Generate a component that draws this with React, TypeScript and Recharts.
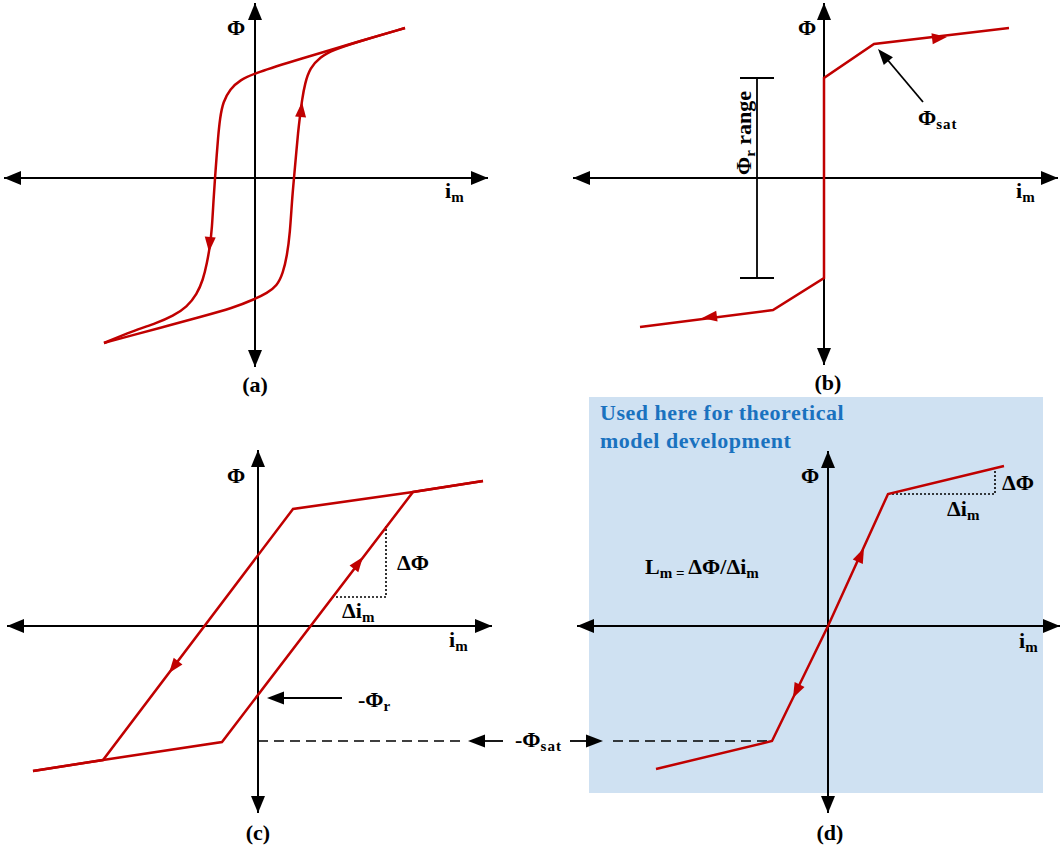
import React from "react";
import { ComposedChart, Line, Scatter, XAxis, YAxis, ReferenceArea } from "recharts";

const RED = "#c00000";
const BLUE_BG = "#cfe1f2";
const BLUE_TEXT = "#1a72bf";
const FONT = "'Liberation Serif', 'Times New Roman', serif";
const PX = 100; // pixels per unit of i_m / Φ

type Pt = { x: number; y: number };
type Arrow = { x: number; y: number; fx: number; fy: number };

// ---------- (a) real hysteresis loop ----------
const aDescending: Pt[] = [
  { x: -1.51, y: -1.65 }, { x: -1.22, y: -1.53 }, { x: -0.98, y: -1.45 }, { x: -0.82, y: -1.38 },
  { x: -0.68, y: -1.29 }, { x: -0.58, y: -1.16 }, { x: -0.52, y: -1.02 }, { x: -0.48, y: -0.85 },
  { x: -0.45, y: -0.68 }, { x: -0.43, y: -0.5 }, { x: -0.415, y: -0.22 }, { x: -0.4, y: 0 },
  { x: -0.385, y: 0.2 }, { x: -0.37, y: 0.4 }, { x: -0.35, y: 0.6 }, { x: -0.32, y: 0.76 },
  { x: -0.25, y: 0.89 }, { x: -0.15, y: 0.98 }, { x: 0, y: 1.05 }, { x: 0.45, y: 1.19 },
  { x: 1.02, y: 1.36 }, { x: 1.5, y: 1.5 },
];
const aAscending: Pt[] = [
  { x: -1.51, y: -1.65 }, { x: -1.22, y: -1.57 }, { x: -0.88, y: -1.48 }, { x: -0.55, y: -1.39 },
  { x: -0.22, y: -1.3 }, { x: 0, y: -1.21 }, { x: 0.12, y: -1.15 }, { x: 0.22, y: -1.08 },
  { x: 0.28, y: -0.95 }, { x: 0.32, y: -0.78 }, { x: 0.35, y: -0.55 }, { x: 0.37, y: -0.22 },
  { x: 0.39, y: 0 }, { x: 0.415, y: 0.28 }, { x: 0.43, y: 0.45 }, { x: 0.45, y: 0.62 },
  { x: 0.47, y: 0.78 }, { x: 0.5, y: 0.95 }, { x: 0.55, y: 1.1 }, { x: 0.65, y: 1.21 },
  { x: 0.78, y: 1.28 }, { x: 1.02, y: 1.36 }, { x: 1.5, y: 1.5 },
];
const aArrows: Arrow[] = [
  { x: -0.46, y: -0.74, fx: -0.44, fy: -0.5 },
  { x: 0.47, y: 0.76, fx: 0.45, fy: 0.55 },
];
const aAxisX = [-2.51, 2.33];
const aAxisY = [-1.89, 1.75];

// ---------- (b) ideal square loop ----------
const bCurve: Pt[] = [
  { x: -1.84, y: -1.49 }, { x: -0.51, y: -1.32 }, { x: 0, y: -1.0 },
  { x: 0, y: 1.0 }, { x: 0.5, y: 1.34 }, { x: 1.85, y: 1.5 },
];
const bArrows: Arrow[] = [
  { x: 1.23, y: 1.41, fx: 1.0, fy: 1.383 },
  { x: -1.22, y: -1.4, fx: -1.0, fy: -1.372 },
];
const bRangeBar: Pt[][] = [
  [{ x: -0.67, y: 1.0 }, { x: -0.67, y: -1.0 }],
  [{ x: -0.84, y: 1.0 }, { x: -0.5, y: 1.0 }],
  [{ x: -0.84, y: -1.0 }, { x: -0.5, y: -1.0 }],
];
const bSatPointer: Pt[] = [{ x: 0.99, y: 0.76 }, { x: 0.62, y: 1.2 }];
const bSatTip: Arrow[] = [{ x: 0.54, y: 1.29, fx: 0.99, fy: 0.76 }];
const bAxisX = [-2.51, 2.34];
const bAxisY = [-1.87, 1.75];

// ---------- (c) piecewise-linear loop ----------
const cDescending: Pt[] = [
  { x: -2.25, y: -1.45 }, { x: -1.55, y: -1.34 }, { x: 0.35, y: 1.17 }, { x: 1.55, y: 1.34 }, { x: 2.25, y: 1.45 },
];
const cAscending: Pt[] = [
  { x: -2.25, y: -1.45 }, { x: -1.55, y: -1.34 }, { x: -0.36, y: -1.16 }, { x: 1.55, y: 1.34 }, { x: 2.25, y: 1.45 },
];
const cArrows: Arrow[] = [
  { x: 1.05, y: 0.69, fx: 0.9, fy: 0.493 },
  { x: -0.89, y: -0.47, fx: -0.75, fy: -0.286 },
];
const cSlopeGuide: Pt[] = [{ x: 0.74, y: 0.29 }, { x: 1.28, y: 0.29 }, { x: 1.28, y: 1.0 }];
const cRemPointer: Pt[] = [{ x: 0.84, y: -0.72 }, { x: 0.2, y: -0.72 }];
const cRemTip: Arrow[] = [{ x: 0.09, y: -0.72, fx: 0.84, fy: -0.72 }];
const cSatDashed: Pt[] = [{ x: 0, y: -1.15 }, { x: 2.05, y: -1.15 }];
const cSatShafts: Pt[][] = [
  [{ x: 2.2, y: -1.15 }, { x: 2.45, y: -1.15 }],
  [{ x: 3.12, y: -1.15 }, { x: 3.35, y: -1.15 }],
];
const cSatTips: Arrow[] = [
  { x: 2.1, y: -1.15, fx: 2.45, fy: -1.15 },
  { x: 3.45, y: -1.15, fx: 3.12, fy: -1.15 },
];
const cAxisX = [-2.51, 2.34];
const cAxisY = [-1.87, 1.76];

// ---------- (d) model used here ----------
const dCurve: Pt[] = [
  { x: -1.72, y: -1.43 }, { x: -0.56, y: -1.15 }, { x: 0, y: 0 }, { x: 0.6, y: 1.32 }, { x: 1.76, y: 1.6 },
];
const dArrows: Arrow[] = [
  { x: 0.36, y: 0.78, fx: 0.26, fy: 0.56 },
  { x: -0.35, y: -0.72, fx: -0.25, fy: -0.515 },
];
const dSlopeGuide: Pt[] = [{ x: 0.6, y: 1.32 }, { x: 1.67, y: 1.32 }, { x: 1.67, y: 1.58 }];
const dSatDashed: Pt[] = [{ x: -2.15, y: -1.15 }, { x: -0.56, y: -1.15 }];
const dShadeX = [-2.39, 2.15];
const dShadeY = [-1.67, 2.29];
const dAxisX = [-2.51, 2.32];
const dAxisY = [-1.87, 1.75];

const arrowHead = (fill: string, len: number, half: number) => (props: any) => {
  const { cx, cy, payload } = props;
  let dx = payload.x - payload.fx;
  let dy = -(payload.y - payload.fy);
  const n = Math.hypot(dx, dy) || 1;
  dx /= n;
  dy /= n;
  const bx = cx - dx * len;
  const by = cy - dy * len;
  const pts = `${cx},${cy} ${bx - dy * half},${by + dx * half} ${bx + dy * half},${by - dx * half}`;
  return <polygon points={pts} fill={fill} />;
};

const path = (key: string, data: Pt[], stroke: string, width: number, extra: any = {}) => (
  <Line
    key={key}
    data={data}
    dataKey="y"
    type="linear"
    stroke={stroke}
    strokeWidth={width}
    dot={false}
    activeDot={false}
    isAnimationActive={false}
    {...extra}
  />
);

const heads = (key: string, data: Arrow[], fill: string, len: number, half: number) => (
  <Scatter key={key} data={data} shape={arrowHead(fill, len, half)} isAnimationActive={false} />
);

const axes = (key: string, xs: number[], ys: number[]) => [
  path(key + "-h", [{ x: xs[0], y: 0 }, { x: xs[1], y: 0 }], "#000", 2),
  path(key + "-v", [{ x: 0, y: ys[0] }, { x: 0, y: ys[1] }], "#000", 2),
  heads(
    key + "-t",
    [
      { x: xs[0], y: 0, fx: 0, fy: 0 },
      { x: xs[1], y: 0, fx: 0, fy: 0 },
      { x: 0, y: ys[0], fx: 0, fy: 0 },
      { x: 0, y: ys[1], fx: 0, fy: 0 },
    ],
    "#000",
    17,
    7
  ),
];

const Panel = ({ box, origin, children }: { box: number[]; origin: number[]; children: any }) => {
  const [left, top, w, h] = box;
  const [ox, oy] = origin;
  const xd = [(left - ox) / PX, (left + w - ox) / PX];
  const yd = [(oy - top - h) / PX, (oy - top) / PX];
  return (
    <div style={{ position: "absolute", left, top, width: w, height: h }}>
      <ComposedChart width={w} height={h} margin={{ top: 0, right: 0, bottom: 0, left: 0 }}>
        <XAxis type="number" dataKey="x" domain={xd} hide allowDataOverflow />
        <YAxis type="number" dataKey="y" domain={yd} hide allowDataOverflow />
        {children}
      </ComposedChart>
    </div>
  );
};

const SUB = 15;
const T = (p: any) => <text fontFamily={FONT} fontWeight="bold" fontSize={22} fill="#000" {...p} />;

const App = () => {
  return (
    <div style={{ position: "absolute", left: 0, top: 0, width: 1062, height: 846, background: "#fff", overflow: "hidden" }}>
      {/* (d) shaded background */}
      <Panel box={[560, 390, 502, 456]} origin={[828, 626]}>
        <ReferenceArea x1={dShadeX[0]} x2={dShadeX[1]} y1={dShadeY[0]} y2={dShadeY[1]} fill={BLUE_BG} fillOpacity={1} stroke="none" />
      </Panel>

      {/* (a) */}
      <Panel box={[0, 0, 540, 400]} origin={[255, 178]}>
        {axes("a", aAxisX, aAxisY)}
        {path("a-down", aDescending, RED, 2.5, { type: "basis" })}
        {path("a-up", aAscending, RED, 2.5, { type: "basis" })}
        {heads("a-arr", aArrows, RED, 15, 5.5)}
      </Panel>

      {/* (b) */}
      <Panel box={[540, 0, 522, 400]} origin={[824, 178]}>
        {axes("b", bAxisX, bAxisY)}
        {bRangeBar.map((s, i) => path("b-bar" + i, s, "#000", 1.8))}
        {path("b-curve", bCurve, RED, 2.5)}
        {path("b-sat", bSatPointer, "#000", 1.8)}
        {heads("b-arr", bArrows, RED, 15, 5.5)}
        {heads("b-sat-tip", bSatTip, "#000", 16, 6)}
      </Panel>

      {/* (d) */}
      <Panel box={[560, 390, 502, 456]} origin={[828, 626]}>
        {axes("d", dAxisX, dAxisY)}
        {path("d-sat", dSatDashed, "#000", 1.6, { strokeDasharray: "10 6" })}
        {path("d-guide", dSlopeGuide, "#000", 1.6, { strokeDasharray: "2 2" })}
        {path("d-curve", dCurve, RED, 2.5)}
        {heads("d-arr", dArrows, RED, 15, 5.5)}
      </Panel>

      {/* (c) */}
      <Panel box={[0, 440, 620, 406]} origin={[258, 626]}>
        {axes("c", cAxisX, cAxisY)}
        {path("c-sat", cSatDashed, "#000", 1.6, { strokeDasharray: "10 6" })}
        {cSatShafts.map((s, i) => path("c-shaft" + i, s, "#000", 1.8))}
        {path("c-guide", cSlopeGuide, "#000", 1.6, { strokeDasharray: "2 2" })}
        {path("c-rem", cRemPointer, "#000", 1.8)}
        {path("c-down", cDescending, RED, 2.5)}
        {path("c-up", cAscending, RED, 2.5)}
        {heads("c-arr", cArrows, RED, 15, 5.5)}
        {heads("c-tips", [...cRemTip, ...cSatTips], "#000", 17, 6.5)}
      </Panel>

      {/* labels */}
      <svg width={1062} height={846} style={{ position: "absolute", left: 0, top: 0, pointerEvents: "none" }}>
        {/* (a) */}
        <T x={236} y={35} textAnchor="middle">Φ</T>
        <T x={445} y={198}>i<tspan dy={4} fontSize={SUB}>m</tspan></T>
        <T x={255} y={392} textAnchor="middle">(a)</T>

        {/* (b) */}
        <T x={807} y={35} textAnchor="middle">Φ</T>
        <T x={1016} y={198}>i<tspan dy={4} fontSize={SUB}>m</tspan></T>
        <T x={828} y={390} textAnchor="middle">(b)</T>
        <T x={918} y={125}>Φ<tspan dy={4} fontSize={SUB} letterSpacing={1}>sat</tspan></T>
        <T x={751} y={133} textAnchor="middle" transform="rotate(-90 751 133)">
          Φ<tspan dy={4} fontSize={SUB}>r</tspan><tspan dy={-4}> range</tspan>
        </T>

        {/* (c) */}
        <T x={236} y={483} textAnchor="middle">Φ</T>
        <T x={449} y={647}>i<tspan dy={4} fontSize={SUB}>m</tspan></T>
        <T x={258} y={840} textAnchor="middle">(c)</T>
        <T x={397} y={570}>ΔΦ</T>
        <T x={342} y={618}>Δi<tspan dy={4} fontSize={SUB}>m</tspan></T>
        <T x={358} y={707}>-Φ<tspan dy={4} fontSize={SUB}>r</tspan></T>
        <T x={515} y={747}>-Φ<tspan dy={4} fontSize={SUB} letterSpacing={1}>sat</tspan></T>

        {/* (d) */}
        <text x={600} y={420} fontFamily={FONT} fontWeight="bold" fontSize={22} fill={BLUE_TEXT} letterSpacing={0.5}>
          Used here for theoretical
        </text>
        <text x={600} y={448} fontFamily={FONT} fontWeight="bold" fontSize={22} fill={BLUE_TEXT} letterSpacing={0.5}>
          model development
        </text>
        <T x={810} y={483} textAnchor="middle">Φ</T>
        <T x={1019} y={648}>i<tspan dy={4} fontSize={SUB}>m</tspan></T>
        <T x={830} y={840} textAnchor="middle">(d)</T>
        <T x={1002} y={490}>ΔΦ</T>
        <T x={947} y={516}>Δi<tspan dy={4} fontSize={SUB}>m</tspan></T>
        <T x={645} y={574}>
          L<tspan dy={4} fontSize={SUB}>m</tspan><tspan fontSize={SUB}> = </tspan>
          <tspan dy={-4}>ΔΦ/Δi</tspan><tspan dy={4} fontSize={SUB}>m</tspan>
        </T>
      </svg>
    </div>
  );
};

export default App;
